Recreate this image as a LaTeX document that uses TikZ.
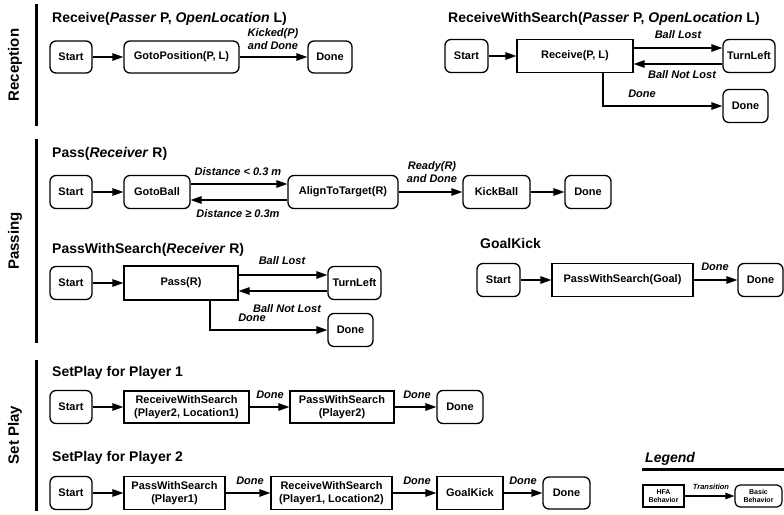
\documentclass[tikz,border=0pt]{standalone}
\usepackage{fontspec}
\setmainfont{Liberation Sans}
\usetikzlibrary{arrows.meta,calc}
\begin{document}
\begin{tikzpicture}[x=1pt,y=-1pt,
  base/.style={draw,line width=1.3pt,inner sep=0pt,align=center,font=\bfseries\fontsize{11}{13}\selectfont},
  rbox/.style={base,rounded corners=6pt},
  sbox/.style={base},
  arr/.style={line width=1.3pt,-{Triangle[length=11pt,width=7.5pt]}},
  lab/.style={inner sep=0pt,align=center,font=\bfseries\itshape\fontsize{11}{13}\selectfont},
  ttl/.style={inner sep=0pt,anchor=base west,font=\bfseries\fontsize{14}{16}\selectfont},
  sect/.style={inner sep=0pt,rotate=90,font=\bfseries\fontsize{15}{17}\selectfont},
  bar/.style={line width=3pt},
  sz/.style n args={2}{minimum width=#1pt,minimum height=#2pt}]
\useasboundingbox (0,0) rectangle (784,514);

% section bars and labels
\coordinate (b1t) at (36,4);   \coordinate (b1b) at (36,126);
\coordinate (b2t) at (36,139); \coordinate (b2b) at (36,343);
\coordinate (b3t) at (36,360); \coordinate (b3b) at (36,511);
\draw[bar] (b1t) -- (b1b);
\draw[bar] (b2t) -- (b2b);
\draw[bar] (b3t) -- (b3b);
\node[sect] (secR) at (15,65) {Reception};
\node[sect] (secP) at (15,241) {Passing};
\node[sect] (secS) at (15,435) {Set Play};

% ---------------- Receive
\node[ttl] (t1) at (52,22) {Receive(\textit{Passer} P, \textit{OpenLocation} L)};
\node[rbox,sz={42}{32}] (r1s) at (71,57) {Start};
\node[rbox,sz={115}{32}] (r1g) at (181.5,57) {GotoPosition(P, L)};
\node[rbox,sz={44}{32}] (r1d) at (330,57) {Done};
\draw[arr] (r1s) -- (r1g);
\draw[arr] (r1g) -- (r1d);
\node[lab] (l1) at (273,39) {Kicked(P)\\and Done};

% ---------------- ReceiveWithSearch
\node[ttl] (t2) at (448,22) {ReceiveWithSearch(\textit{Passer} P, \textit{OpenLocation} L)};
\node[rbox,sz={43}{33}] (r2s) at (466.5,56) {Start};
\node[sbox,sz={116}{33}] (r2r) at (575,56) {Receive(P, L)};
\node[rbox,sz={52}{33}] (r2t) at (749,56) {TurnLeft};
\node[rbox,sz={45}{33}] (r2d) at (745.5,106) {Done};
\draw[arr] (r2s) -- (r2r);
\draw[arr] ([yshift=8pt]r2r.east) -- ([yshift=8pt]r2t.west);
\draw[arr] ([yshift=-8pt]r2t.west) -- ([yshift=-8pt]r2r.east);
\draw[arr] ([xshift=28pt]r2r.south) |- (r2d.west);
\node[lab] (l2a) at (678,35) {Ball Lost};
\node[lab] (l2b) at (682,75) {Ball Not Lost};
\node[lab] (l2c) at (642,94) {Done};

% ---------------- Pass
\node[ttl] (t3) at (52,157) {Pass(\textit{Receiver} R)};
\node[rbox,sz={42}{33}] (p1s) at (71,192) {Start};
\node[rbox,sz={66}{33}] (p1g) at (157,192) {GotoBall};
\node[rbox,sz={110}{33}] (p1a) at (343,192) {AlignToTarget(R)};
\node[rbox,sz={67}{33}] (p1k) at (496.5,192) {KickBall};
\node[rbox,sz={46}{33}] (p1d) at (588,192) {Done};
\draw[arr] (p1s) -- (p1g);
\draw[arr] ([yshift=8pt]p1g.east) -- ([yshift=8pt]p1a.west);
\draw[arr] ([yshift=-8pt]p1a.west) -- ([yshift=-8pt]p1g.east);
\draw[arr] (p1a) -- (p1k);
\draw[arr] (p1k) -- (p1d);
\node[lab] (l3a) at (238,172) {Distance < 0.3 m};
\node[lab] (l3b) at (238,214) {Distance ≥ 0.3m};
\node[lab] (l3c) at (432,172) {Ready(R)\\and Done};

% ---------------- PassWithSearch
\node[ttl] (t4) at (52,253) {PassWithSearch(\textit{Receiver} R)};
\node[rbox,sz={42}{33}] (p2s) at (71,283) {Start};
\node[sbox,sz={114}{34}] (p2p) at (181,283) {Pass(R)};
\node[rbox,sz={53}{33}] (p2t) at (354.5,283) {TurnLeft};
\node[rbox,sz={45}{33}] (p2d) at (350.5,330) {Done};
\draw[arr] (p2s) -- (p2p);
\draw[arr] ([yshift=8pt]p2p.east) -- ([yshift=8pt]p2t.west);
\draw[arr] ([yshift=-8pt]p2t.west) -- ([yshift=-8pt]p2p.east);
\draw[arr] ([xshift=29pt]p2p.south) |- (p2d.west);
\node[lab] (l4a) at (282,261) {Ball Lost};
\node[lab] (l4b) at (287,309) {Ball Not Lost};
\node[lab] (l4c) at (252,318) {Done};

% ---------------- GoalKick
\node[ttl] (t5) at (480,248) {GoalKick};
\node[rbox,sz={43}{33}] (g1s) at (498.5,280) {Start};
\node[sbox,sz={141}{33}] (g1p) at (622.5,280) {PassWithSearch(Goal)};
\node[rbox,sz={45}{33}] (g1d) at (760.5,280) {Done};
\draw[arr] (g1s) -- (g1p);
\draw[arr] (g1p) -- (g1d);
\node[lab] (l5a) at (715,267) {Done};

% ---------------- SetPlay 1
\node[ttl] (t6) at (52,376) {SetPlay for Player 1};
\node[rbox,sz={42}{33}] (s1s) at (71,407) {Start};
\node[sbox,sz={125}{32}] (s1r) at (186.5,407) {ReceiveWithSearch\\(Player2, Location1)};
\node[sbox,sz={104}{32}] (s1p) at (342,407) {PassWithSearch\\(Player2)};
\node[rbox,sz={46}{33}] (s1d) at (460,407) {Done};
\draw[arr] (s1s) -- (s1r);
\draw[arr] (s1r) -- (s1p);
\draw[arr] (s1p) -- (s1d);
\node[lab] (l6a) at (270,395) {Done};
\node[lab] (l6b) at (417,395) {Done};

% ---------------- SetPlay 2
\node[ttl] (t7) at (52,461) {SetPlay for Player 2};
\node[rbox,sz={42}{33}] (s2s) at (71,493) {Start};
\node[sbox,sz={101}{33}] (s2p) at (174.5,493) {PassWithSearch\\(Player1)};
\node[sbox,sz={121}{33}] (s2r) at (331.5,493) {ReceiveWithSearch\\(Player1, Location2)};
\node[sbox,sz={66}{33}] (s2g) at (470,493) {GoalKick};
\node[rbox,sz={47}{32}] (s2d) at (566.5,493) {Done};
\draw[arr] (s2s) -- (s2p);
\draw[arr] (s2p) -- (s2r);
\draw[arr] (s2r) -- (s2g);
\draw[arr] (s2g) -- (s2d);
\node[lab] (l7a) at (250,481) {Done};
\node[lab] (l7b) at (417,481) {Done};
\node[lab] (l7c) at (523,481) {Done};

% ---------------- Legend
\node[inner sep=0pt,anchor=base west,font=\bfseries\itshape\fontsize{14}{16}\selectfont] (lg) at (645,462) {Legend};
\coordinate (lgl) at (642,469);
\coordinate (lgr) at (784,469);
\draw[line width=3pt] (lgl) -- (lgr);
\node[sbox,sz={41}{22},line width=1.2pt,font=\bfseries\fontsize{7}{8}\selectfont] (hfa) at (663.5,496) {HFA\\Behavior};
\node[rbox,sz={47}{22},rounded corners=5pt,line width=1.2pt,font=\bfseries\fontsize{7}{8}\selectfont] (bas) at (758.5,496) {Basic\\Behavior};
\draw[line width=1.2pt,-{Triangle[length=9pt,width=6.5pt]}] (hfa) -- (bas);
\node[lab,font=\bfseries\itshape\fontsize{7.5}{9}\selectfont] (ltr) at (711,487) {Transition};
\end{tikzpicture}
\end{document}
